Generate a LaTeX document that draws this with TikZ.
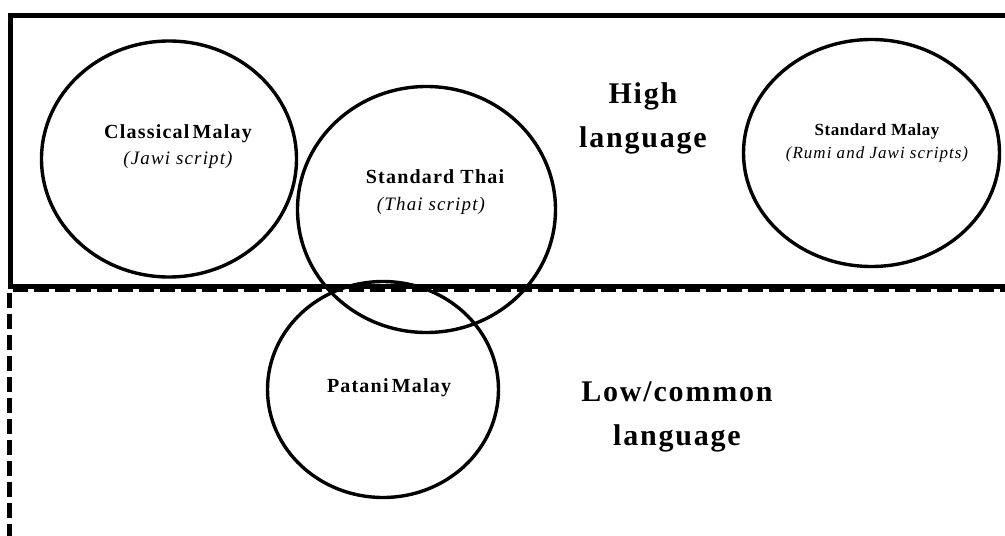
\documentclass[tikz,border=0pt]{standalone}
\usepackage{fontspec}
\setmainfont{Liberation Serif}
\newfontfamily\lblfont[LetterSpace=6]{Liberation Serif}
\newfontfamily\smfont[LetterSpace=3]{Liberation Serif}
\newfontfamily\smifont[LetterSpace=6]{Liberation Serif}
\newfontfamily\bigfont[LetterSpace=6]{Liberation Serif}
\usetikzlibrary{shapes.geometric}
\tikzset{
  frame/.style={line width=4.5pt, line join=miter},
  dashframe/.style={line width=4.5pt, dash pattern=on 15pt off 6pt},
  ring/.style={draw, ellipse, line width=3.4pt, inner sep=0pt},
  lbl/.style={anchor=base, inner sep=0pt, font=\fontsize{20}{23}\selectfont\lblfont\bfseries},
  sub/.style={anchor=base, inner sep=0pt, font=\fontsize{19}{22}\selectfont\lblfont\itshape},
  smlbl/.style={anchor=base, inner sep=0pt, font=\fontsize{17}{19}\selectfont\smfont\bfseries},
  smsub/.style={anchor=base, inner sep=0pt, font=\fontsize{17}{19}\selectfont\smifont\itshape},
  big/.style={anchor=base, inner sep=0pt, font=\fontsize{30}{34}\selectfont\bigfont\bfseries}
}
\begin{document}
\begin{tikzpicture}[x=1pt,y=-1pt]
\useasboundingbox (0,0) rectangle (1005,536);
\clip (0,0) rectangle (1005,536);
% frames
\coordinate (tr) at (1015,15.5);
\coordinate (tl) at (10.5,15.5);
\coordinate (bl) at (10.5,286.5);
\coordinate (br) at (1015,286.5);
\draw[frame] (tr) -- (tl) -- (bl) -- (br);
\coordinate (dr) at (1015,290);
\coordinate (dl) at (9.5,290);
\coordinate (db) at (9.5,545);
\draw[dashframe] (dr) -- (dl) -- (db);
% circles
\node[ring, minimum width=255pt, minimum height=236pt] (cm) at (169,159) {};
\node[ring, minimum width=258pt, minimum height=246pt] (st) at (426.5,209.5) {};
\node[ring, minimum width=256pt, minimum height=227pt] (sm) at (871.5,153) {};
\node[ring, minimum width=231pt, minimum height=216pt] (pm) at (383,389.5) {};
% labels
\node[lbl] (cmt) at (178,138) {Classical\hspace{-3pt} Malay};
\node[sub] (cms) at (178,164) {(Jawi script)};
\node[lbl] (stt) at (435,183) {Standard Thai};
\node[sub] (sts) at (431,210) {(Thai script)};
\node[smlbl] (smt) at (877,135) {Standard Malay};
\node[smsub] (sms) at (877,158) {(Rumi and Jawi scripts)};
\node[lbl] (pmt) at (389,392) {Patani\hspace{-3pt} Malay};
\node[big] (hi1) at (643,103) {High};
\node[big] (hi2) at (643,147) {language};
\node[big] (lo1) at (677,401) {Low/common};
\node[big] (lo2) at (677,445) {language};
\end{tikzpicture}
\end{document}
